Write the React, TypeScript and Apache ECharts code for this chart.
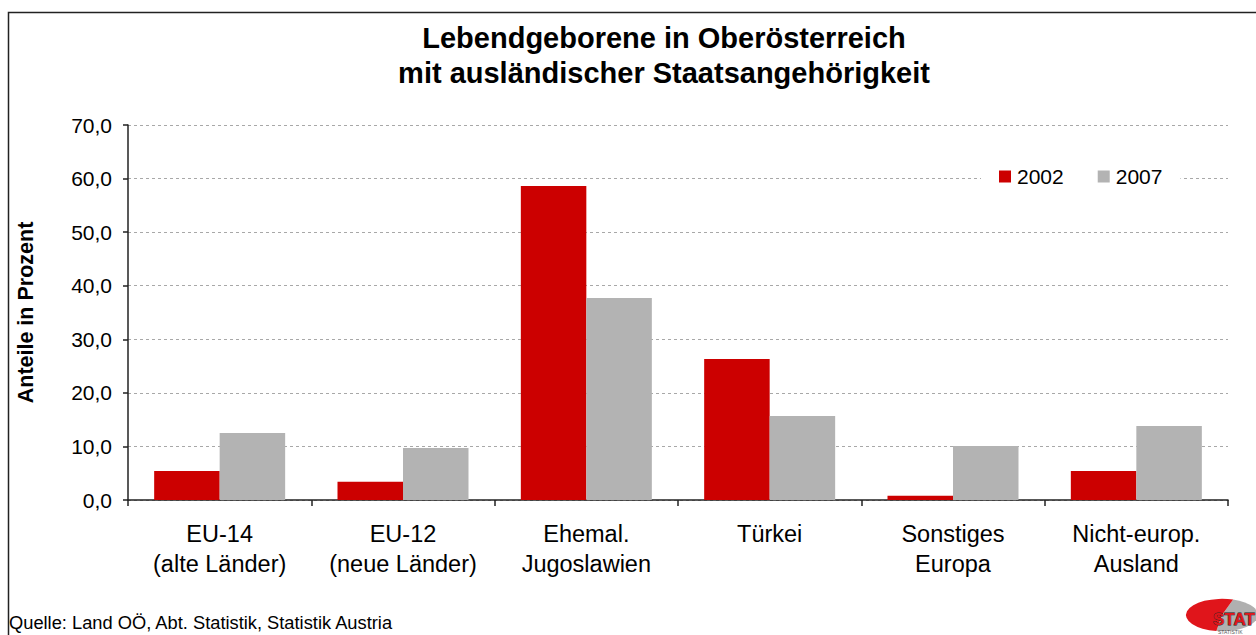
import React, { useEffect, useRef } from "react";
import * as echarts from "echarts";

const categories = [
  "EU-14\n(alte Länder)",
  "EU-12\n(neue Länder)",
  "Ehemal.\nJugoslawien",
  "Türkei",
  "Sonstiges\nEuropa",
  "Nicht-europ.\nAusland",
];
const values2002 = [5.4, 3.4, 58.6, 26.3, 0.8, 5.4];
const values2007 = [12.5, 9.7, 37.7, 15.7, 10.1, 13.8];
const seriesNames = ["2002", "2007"];
const titleText = "Lebendgeborene in Oberösterreich\nmit ausländischer Staatsangehörigkeit";
const yAxisName = "Anteile in Prozent";
const sourceText = "Quelle: Land OÖ, Abt. Statistik, Statistik Austria";

const FONT = "'Liberation Sans', Arial, sans-serif";

export default function App() {
  const ref = useRef<HTMLDivElement>(null);
  useEffect(() => {
    if (!ref.current) return;
    const chart = echarts.init(ref.current, null, { renderer: "svg" });
    chart.setOption({
      animation: false,
      backgroundColor: "#fff",
      textStyle: { fontFamily: FONT },
      title: {
        text: titleText,
        left: 659,
        textAlign: "center",
        top: 15,
        textStyle: { fontSize: 29, fontWeight: "bold", color: "#000", lineHeight: 35, fontFamily: FONT },
      },
      legend: {
        data: seriesNames,
        left: 981,
        top: 162,
        icon: "rect",
        itemWidth: 12,
        itemHeight: 12,
        itemGap: 34,
        padding: [4, 18, 4, 18],
        backgroundColor: "#fff",
        textStyle: { fontSize: 21, color: "#000", fontFamily: FONT, padding: [0, 0, 0, 1] },
      },
      grid: { left: 128, right: 28, top: 125, bottom: 135, containLabel: false },
      xAxis: {
        type: "category",
        data: categories,
        axisLine: { lineStyle: { color: "#222", width: 1.5 } },
        axisTick: { show: true, length: 6, alignWithLabel: false, lineStyle: { color: "#222", width: 1.5 } },
        axisLabel: { fontSize: 23.5, color: "#000", lineHeight: 30, margin: 19, interval: 0, fontFamily: FONT },
      },
      yAxis: {
        type: "value",
        min: 0,
        max: 70,
        interval: 10,
        name: yAxisName,
        nameLocation: "middle",
        nameRotate: 90,
        nameGap: 91,
        nameTextStyle: { fontSize: 21.5, fontWeight: "bold", color: "#000", fontFamily: FONT },
        axisLine: { show: true, lineStyle: { color: "#222", width: 1.5 } },
        axisTick: { show: true, length: 5, lineStyle: { color: "#222", width: 1.5 } },
        axisLabel: {
          fontSize: 21,
          color: "#000",
          margin: 16,
          fontFamily: FONT,
          formatter: (v: number) => v.toFixed(1).replace(".", ","),
        },
        splitLine: { show: true, lineStyle: { color: "#A8A8A8", type: [3, 3], width: 1 } },
      },
      series: [
        {
          name: seriesNames[0],
          type: "bar",
          data: values2002,
          barWidth: 65.5,
          barGap: "0%",
          itemStyle: { color: "#CC0000" },
        },
        {
          name: seriesNames[1],
          type: "bar",
          data: values2007,
          barWidth: 65.5,
          barGap: "0%",
          itemStyle: { color: "#B3B3B3" },
        },
      ],
      graphic: [
        {
          type: "rect",
          shape: { x: 8.5, y: 12.5, width: 1400, height: 800 },
          style: { fill: "none", stroke: "#222", lineWidth: 1.5 },
          silent: true,
          z: -1,
        },
        {
          type: "text",
          left: 9,
          top: 613,
          style: { text: sourceText, fontSize: 18.3, fill: "#000", fontFamily: FONT },
        },
        {
          type: "group",
          x: 1222,
          y: 615,
          scaleY: 0.45,
          children: [
            {
              type: "sector",
              shape: { cx: 0, cy: 0, r: 36, startAngle: -Math.PI * 0.4, endAngle: Math.PI * 0.55 },
              style: { fill: "#B0B0B0" },
            },
            {
              type: "sector",
              shape: { cx: 0, cy: 0, r: 36, startAngle: Math.PI * 0.55, endAngle: Math.PI * 1.6 },
              style: { fill: "#E0151B" },
            },
          ],
        },
        {
          type: "text",
          x: 1213,
          y: 611,
          style: {
            text: "STAT",
            fontSize: 17,
            fontWeight: "bold",
            fill: "#E0151B",
            stroke: "#222",
            lineWidth: 0.8,
            fontFamily: FONT,
          },
        },
        {
          type: "text",
          x: 1218,
          y: 629,
          style: { text: "STATISTIK", fontSize: 5, fill: "#555", fontFamily: FONT },
        },
      ],
    });
    return () => chart.dispose();
  }, []);
  return (
    <div
      ref={ref}
      style={{ position: "fixed", left: 0, top: 0, width: 1256, height: 635 }}
    />
  );
}
